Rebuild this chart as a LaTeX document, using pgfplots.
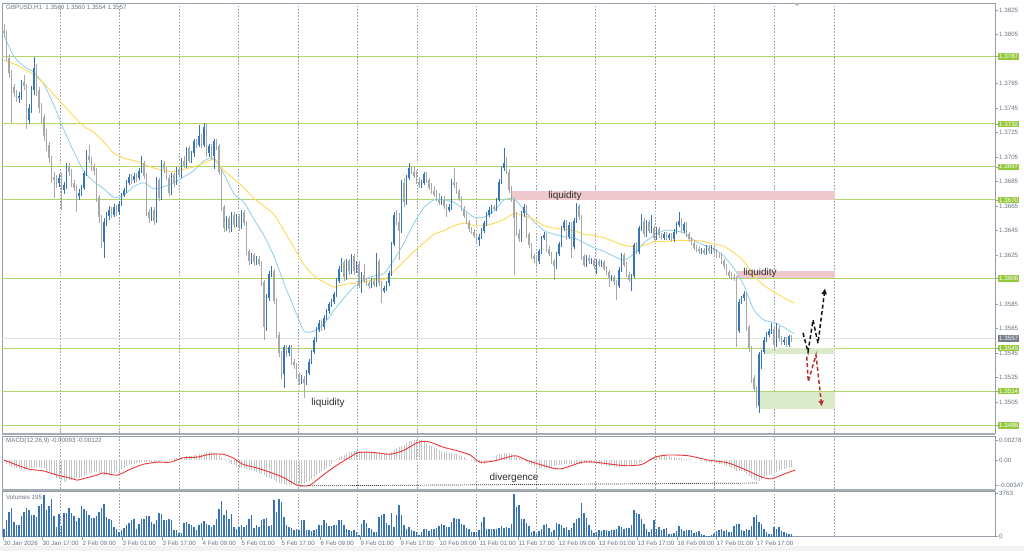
\documentclass[border=0pt]{standalone}
\usepackage{fontspec}
\setmainfont{Liberation Sans}
\usepackage{pgfplots}
\usepackage{pgfplotstable}
\pgfplotsset{compat=1.18}
\usetikzlibrary{arrows.meta}

\definecolor{candleup}{RGB}{55,117,186}
\definecolor{candledn}{RGB}{168,168,168}
\definecolor{lvlLine}{RGB}{178,214,108}
\definecolor{lvlBox}{RGB}{150,200,62}
\definecolor{frame}{RGB}{150,158,170}
\definecolor{gridc}{RGB}{155,163,175}
\definecolor{txt}{RGB}{105,115,130}
\definecolor{maBlue}{RGB}{150,210,240}
\definecolor{maYel}{RGB}{255,218,85}
\definecolor{zoneRed}{RGB}{238,200,204}
\definecolor{zoneGreen}{RGB}{219,235,201}
\definecolor{macdGrey}{RGB}{196,196,196}
\definecolor{sig}{RGB}{235,55,55}
\definecolor{volBlue}{RGB}{55,115,180}
\definecolor{curLine}{RGB}{226,226,229}
\definecolor{curBox}{RGB}{115,125,140}
\definecolor{anntext}{RGB}{45,45,45}
\definecolor{arrRed}{RGB}{180,52,52}
\definecolor{arrBlack}{RGB}{20,20,20}
\definecolor{sepc}{RGB}{165,172,182}

\newcommand{\lbl}{\fontsize{6.2}{7}\selectfont}
\newcommand{\ann}{\fontsize{10}{12}\selectfont}

% hourly bars: open high low close volume macd
\pgfplotstableread{
o h l c v m
1.3808 1.3814 1.3803 1.3806 700 -0.0003
1.3806 1.3808 1.3783 1.3786 1490 -0.0006
1.3786 1.3789 1.3770 1.3774 2190 -0.0008
1.3774 1.3776 1.3733 1.3762 2540 -0.0010
1.3762 1.3765 1.3754 1.3757 1310 -0.0011
1.3757 1.3760 1.3750 1.3753 1050 -0.0011
1.3753 1.3758 1.3749 1.3755 1050 -0.0013
1.3755 1.3768 1.3752 1.3766 1840 -0.0014
1.3766 1.3772 1.3760 1.3763 2190 -0.0014
1.3763 1.3765 1.3728 1.3735 2540 -0.0013
1.3735 1.3748 1.3732 1.3745 2360 -0.0011
1.3745 1.3763 1.3741 1.3760 1925 -0.0011
1.3760 1.3787 1.3756 1.3778 1925 -0.0010
1.3778 1.3781 1.3755 1.3760 1750 -0.0010
1.3760 1.3762 1.3741 1.3745 2710 -0.0010
1.3745 1.3749 1.3733 1.3738 2890 -0.0011
1.3738 1.3740 1.3718 1.3722 3675 -0.0011
1.3722 1.3728 1.3710 1.3715 2360 -0.0014
1.3715 1.3717 1.3700 1.3704 2710 -0.0017
1.3704 1.3706 1.3684 1.3689 3325 -0.0018
1.3689 1.3693 1.3672 1.3686 1840 -0.0021
1.3686 1.3690 1.3680 1.3684 875 -0.0025
1.3684 1.3691 1.3681 1.3688 2010 -0.0026
1.3688 1.3692 1.3662 1.3678 960 -0.0029
1.3678 1.3685 1.3675 1.3682 2100 -0.0031
1.3682 1.3700 1.3679 1.3698 2100 -0.0029
1.3698 1.3700 1.3690 1.3693 2540 -0.0028
1.3693 1.3695 1.3681 1.3684 2100 -0.0028
1.3684 1.3686 1.3677 1.3680 1840 -0.0026
1.3680 1.3682 1.3660 1.3673 1400 -0.0025
1.3673 1.3679 1.3670 1.3676 1660 -0.0025
1.3676 1.3682 1.3673 1.3680 2710 -0.0024
1.3680 1.3694 1.3678 1.3692 2450 -0.0022
1.3692 1.3711 1.3690 1.3706 2275 -0.0021
1.3706 1.3715 1.3700 1.3703 1925 -0.0018
1.3703 1.3705 1.3694 1.3697 1660 -0.0018
1.3697 1.3699 1.3690 1.3694 1660 -0.0017
1.3694 1.3696 1.3668 1.3672 1840 -0.0017
1.3672 1.3674 1.3651 1.3656 2190 -0.0018
1.3656 1.3658 1.3631 1.3636 2540 -0.0019
1.3636 1.3655 1.3623 1.3652 2890 -0.0021
1.3652 1.3660 1.3649 1.3657 1750 -0.0021
1.3657 1.3665 1.3654 1.3662 1575 -0.0021
1.3662 1.3664 1.3655 1.3658 1490 -0.0019
1.3658 1.3667 1.3656 1.3664 875 -0.0018
1.3664 1.3666 1.3657 1.3660 700 -0.0017
1.3660 1.3669 1.3658 1.3667 440 -0.0015
1.3667 1.3676 1.3665 1.3674 610 -0.0013
1.3674 1.3680 1.3672 1.3678 790 -0.0011
1.3678 1.3686 1.3676 1.3684 1050 -0.0008
1.3684 1.3691 1.3682 1.3689 1225 -0.0007
1.3689 1.3691 1.3683 1.3686 1490 -0.0006
1.3686 1.3692 1.3684 1.3690 1575 -0.0006
1.3690 1.3692 1.3685 1.3688 700 -0.0004
1.3688 1.3696 1.3686 1.3694 1140 -0.0004
1.3694 1.3706 1.3692 1.3700 1575 -0.0003
1.3700 1.3702 1.3687 1.3690 1575 -0.0003
1.3690 1.3692 1.3657 1.3660 1840 -0.0003
1.3660 1.3663 1.3651 1.3655 1840 -0.0003
1.3655 1.3664 1.3653 1.3662 1310 -0.0003
1.3662 1.3664 1.3650 1.3653 1140 -0.0003
1.3653 1.3689 1.3651 1.3686 1490 -0.0003
1.3686 1.3688 1.3669 1.3672 2100 -0.0003
1.3672 1.3703 1.3670 1.3700 2010 -0.0001
1.3700 1.3702 1.3692 1.3695 1490 -0.0001
1.3695 1.3697 1.3686 1.3688 1490 0
1.3688 1.3690 1.3673 1.3676 1575 0.0001
1.3676 1.3692 1.3674 1.3690 1490 0.0001
1.3690 1.3692 1.3681 1.3684 610 0.0003
1.3684 1.3697 1.3682 1.3695 610 0.0003
1.3695 1.3697 1.3688 1.3690 350 0.0003
1.3690 1.3704 1.3688 1.3702 350 0.0004
1.3702 1.3706 1.3696 1.3698 1225 0.0004
1.3698 1.3713 1.3696 1.3712 1310 0.0006
1.3712 1.3714 1.3700 1.3702 1140 0.0006
1.3702 1.3710 1.3700 1.3708 1050 0.0006
1.3708 1.3720 1.3705 1.3718 875 0.0007
1.3718 1.3720 1.3712 1.3715 610 0.0007
1.3715 1.3731 1.3713 1.3722 1050 0.0008
1.3722 1.3724 1.3712 1.3715 1225 0.0008
1.3715 1.3733 1.3713 1.3730 1400 0.0010
1.3730 1.3732 1.3705 1.3708 1140 0.0011
1.3708 1.3716 1.3705 1.3714 1050 0.0011
1.3714 1.3716 1.3703 1.3706 875 0.0011
1.3706 1.3720 1.3695 1.3718 1050 0.0010
1.3718 1.3720 1.3711 1.3714 1575 0.0010
1.3714 1.3716 1.3690 1.3693 2450 0.0008
1.3693 1.3695 1.3661 1.3664 3150 0.0004
1.3664 1.3666 1.3644 1.3647 1925 0.0001
1.3647 1.3657 1.3645 1.3655 2360 -0.0001
1.3655 1.3657 1.3643 1.3646 1575 -0.0004
1.3646 1.3660 1.3644 1.3658 2010 -0.0006
1.3658 1.3660 1.3647 1.3650 875 -0.0007
1.3650 1.3659 1.3648 1.3657 700 -0.0010
1.3657 1.3659 1.3645 1.3648 875 -0.0011
1.3648 1.3662 1.3646 1.3660 1050 -0.0011
1.3660 1.3662 1.3649 1.3651 875 -0.0011
1.3651 1.3653 1.3625 1.3628 1050 -0.0013
1.3628 1.3630 1.3617 1.3620 1575 -0.0014
1.3620 1.3627 1.3618 1.3625 1925 -0.0014
1.3625 1.3627 1.3616 1.3619 790 -0.0015
1.3619 1.3624 1.3617 1.3622 1050 -0.0017
1.3622 1.3624 1.3616 1.3618 875 -0.0018
1.3618 1.3620 1.3600 1.3603 1490 -0.0019
1.3603 1.3605 1.3556 1.3566 1575 -0.0021
1.3566 1.3593 1.3563 1.3590 1660 -0.0024
1.3590 1.3612 1.3588 1.3610 960 -0.0025
1.3610 1.3616 1.3607 1.3612 1050 -0.0026
1.3612 1.3614 1.3585 1.3588 3240 -0.0028
1.3588 1.3590 1.3557 1.3560 2190 -0.0031
1.3560 1.3562 1.3542 1.3545 3325 -0.0032
1.3545 1.3547 1.3524 1.3528 3060 -0.0033
1.3528 1.3552 1.3517 1.3550 1750 -0.0033
1.3550 1.3552 1.3542 1.3545 1050 -0.0035
1.3545 1.3552 1.3543 1.3550 875 -0.0035
1.3550 1.3552 1.3535 1.3538 790 -0.0035
1.3538 1.3540 1.3532 1.3535 610 -0.0035
1.3535 1.3537 1.3524 1.3527 700 -0.0035
1.3527 1.3529 1.3519 1.3522 610 -0.0035
1.3522 1.3527 1.3520 1.3524 1490 -0.0033
1.3524 1.3526 1.3508 1.3521 1490 -0.0033
1.3521 1.3531 1.3519 1.3529 610 -0.0031
1.3529 1.3540 1.3527 1.3538 610 -0.0029
1.3538 1.3548 1.3536 1.3546 525 -0.0026
1.3546 1.3558 1.3544 1.3556 610 -0.0024
1.3556 1.3566 1.3554 1.3564 700 -0.0021
1.3564 1.3572 1.3562 1.3570 1050 -0.0018
1.3570 1.3572 1.3563 1.3566 1050 -0.0015
1.3566 1.3576 1.3564 1.3574 1490 -0.0014
1.3574 1.3581 1.3572 1.3579 1225 -0.0011
1.3579 1.3587 1.3577 1.3585 960 -0.0008
1.3585 1.3589 1.3583 1.3587 960 -0.0006
1.3587 1.3595 1.3585 1.3593 1050 -0.0001
1.3593 1.3606 1.3591 1.3604 1050 0.0001
1.3604 1.3616 1.3602 1.3614 1490 0.0004
1.3614 1.3623 1.3611 1.3619 1490 0.0006
1.3619 1.3621 1.3604 1.3607 1050 0.0007
1.3607 1.3622 1.3605 1.3620 700 0.0008
1.3620 1.3622 1.3609 1.3612 610 0.0011
1.3612 1.3626 1.3610 1.3624 525 0.0011
1.3624 1.3626 1.3609 1.3612 610 0.0013
1.3612 1.3620 1.3610 1.3618 440 0.0013
1.3618 1.3620 1.3598 1.3600 175 0.0013
1.3600 1.3611 1.3594 1.3609 1140 0.0011
1.3609 1.3618 1.3602 1.3604 1490 0.0011
1.3604 1.3606 1.3600 1.3602 1225 0.0010
1.3602 1.3604 1.3597 1.3600 790 0.0010
1.3600 1.3606 1.3598 1.3604 700 0.0010
1.3604 1.3606 1.3599 1.3601 440 0.0010
1.3601 1.3627 1.3599 1.3620 440 0.0010
1.3620 1.3622 1.3600 1.3602 1750 0.0010
1.3602 1.3604 1.3586 1.3596 1925 0.0008
1.3596 1.3600 1.3594 1.3598 2010 0.0008
1.3598 1.3604 1.3596 1.3602 1225 0.0010
1.3602 1.3612 1.3600 1.3610 1050 0.0010
1.3610 1.3636 1.3608 1.3634 2100 0.0011
1.3634 1.3660 1.3632 1.3658 875 0.0014
1.3658 1.3662 1.3650 1.3652 1925 0.0017
1.3652 1.3659 1.3621 1.3645 2800 0.0018
1.3645 1.3686 1.3643 1.3684 1925 0.0019
1.3684 1.3688 1.3664 1.3668 1050 0.0021
1.3668 1.3690 1.3666 1.3688 700 0.0024
1.3688 1.3700 1.3686 1.3696 875 0.0026
1.3696 1.3698 1.3691 1.3693 610 0.0026
1.3693 1.3697 1.3688 1.3690 525 0.0028
1.3690 1.3694 1.3683 1.3685 440 0.0028
1.3685 1.3689 1.3680 1.3682 175 0.0028
1.3682 1.3686 1.3680 1.3684 440 0.0028
1.3684 1.3693 1.3682 1.3691 700 0.0026
1.3691 1.3693 1.3684 1.3686 700 0.0024
1.3686 1.3688 1.3678 1.3680 525 0.0021
1.3680 1.3684 1.3675 1.3677 700 0.0019
1.3677 1.3681 1.3672 1.3674 700 0.0018
1.3674 1.3678 1.3669 1.3671 790 0.0017
1.3671 1.3676 1.3666 1.3668 960 0.0014
1.3668 1.3673 1.3666 1.3670 1140 0.0013
1.3670 1.3673 1.3663 1.3665 1050 0.0011
1.3665 1.3667 1.3656 1.3662 875 0.0011
1.3662 1.3667 1.3660 1.3664 875 0.0010
1.3664 1.3687 1.3662 1.3685 1310 0.0010
1.3685 1.3696 1.3680 1.3682 1660 0.0008
1.3682 1.3685 1.3675 1.3677 1575 0.0008
1.3677 1.3679 1.3669 1.3671 1575 0.0007
1.3671 1.3673 1.3661 1.3663 1140 0.0006
1.3663 1.3665 1.3655 1.3657 1050 0.0004
1.3657 1.3659 1.3650 1.3652 790 0.0001
1.3652 1.3654 1.3644 1.3646 700 0
1.3646 1.3648 1.3642 1.3644 440 -0.0001
1.3644 1.3646 1.3639 1.3641 440 -0.0003
1.3641 1.3643 1.3635 1.3637 440 -0.0004
1.3637 1.3642 1.3632 1.3640 610 -0.0004
1.3640 1.3647 1.3638 1.3645 1310 -0.0006
1.3645 1.3653 1.3643 1.3651 1750 -0.0006
1.3651 1.3660 1.3649 1.3658 700 -0.0004
1.3658 1.3664 1.3656 1.3662 700 -0.0003
1.3662 1.3666 1.3659 1.3664 700 -0.0001
1.3664 1.3666 1.3661 1.3663 700 0
1.3663 1.3672 1.3661 1.3670 700 0.0007
1.3670 1.3687 1.3668 1.3685 790 0.0008
1.3685 1.3698 1.3683 1.3696 960 0.0008
1.3696 1.3712 1.3694 1.3700 790 0.0010
1.3700 1.3705 1.3691 1.3693 875 0.0010
1.3693 1.3695 1.3676 1.3678 790 0.0010
1.3678 1.3681 1.3668 1.3670 1140 0.0008
1.3670 1.3672 1.3609 1.3655 3763 0.0006
1.3655 1.3660 1.3641 1.3643 2625 0.0004
1.3643 1.3646 1.3636 1.3638 2800 0.0003
1.3638 1.3661 1.3636 1.3659 1575 0.0001
1.3659 1.3667 1.3656 1.3664 1575 0
1.3664 1.3666 1.3639 1.3642 1225 -0.0003
1.3642 1.3644 1.3631 1.3633 960 -0.0006
1.3633 1.3635 1.3622 1.3624 440 -0.0007
1.3624 1.3626 1.3619 1.3622 525 -0.0008
1.3622 1.3624 1.3617 1.3620 260 -0.0010
1.3620 1.3630 1.3618 1.3628 525 -0.0011
1.3628 1.3641 1.3626 1.3639 700 -0.0011
1.3639 1.3644 1.3637 1.3641 1050 -0.0011
1.3641 1.3643 1.3628 1.3630 1140 -0.0011
1.3630 1.3632 1.3624 1.3626 790 -0.0011
1.3626 1.3628 1.3618 1.3620 440 -0.0010
1.3620 1.3622 1.3605 1.3616 610 -0.0008
1.3616 1.3628 1.3614 1.3626 1225 -0.0007
1.3626 1.3636 1.3624 1.3634 1140 -0.0007
1.3634 1.3649 1.3632 1.3647 1050 -0.0007
1.3647 1.3654 1.3645 1.3652 790 -0.0006
1.3652 1.3654 1.3637 1.3640 875 -0.0006
1.3640 1.3652 1.3638 1.3650 610 -0.0006
1.3650 1.3652 1.3623 1.3632 790 -0.0006
1.3632 1.3655 1.3630 1.3653 1225 -0.0006
1.3653 1.3668 1.3651 1.3665 1575 -0.0006
1.3665 1.3667 1.3654 1.3656 1660 -0.0006
1.3656 1.3658 1.3621 1.3624 2975 -0.0006
1.3624 1.3626 1.3615 1.3617 2100 -0.0004
1.3617 1.3625 1.3615 1.3623 1660 -0.0004
1.3623 1.3625 1.3618 1.3620 1050 -0.0004
1.3620 1.3623 1.3618 1.3621 610 -0.0004
1.3621 1.3623 1.3614 1.3616 350 -0.0004
1.3616 1.3622 1.3610 1.3620 440 -0.0006
1.3620 1.3622 1.3615 1.3617 610 -0.0006
1.3617 1.3621 1.3615 1.3619 525 -0.0007
1.3619 1.3621 1.3612 1.3614 610 -0.0007
1.3614 1.3616 1.3609 1.3611 610 -0.0008
1.3611 1.3613 1.3599 1.3606 525 -0.0008
1.3606 1.3609 1.3604 1.3607 610 -0.0008
1.3607 1.3609 1.3601 1.3603 610 -0.0010
1.3603 1.3605 1.3588 1.3600 700 -0.0010
1.3600 1.3615 1.3598 1.3613 960 -0.0010
1.3613 1.3627 1.3611 1.3625 875 -0.0008
1.3625 1.3627 1.3615 1.3617 700 -0.0008
1.3617 1.3619 1.3607 1.3609 790 -0.0008
1.3609 1.3611 1.3603 1.3605 790 -0.0008
1.3605 1.3610 1.3596 1.3608 1050 -0.0008
1.3608 1.3635 1.3606 1.3633 2360 -0.0007
1.3633 1.3636 1.3626 1.3628 2100 -0.0006
1.3628 1.3649 1.3626 1.3647 2010 -0.0004
1.3647 1.3659 1.3645 1.3653 1575 -0.0003
1.3653 1.3655 1.3640 1.3642 1140 -0.0001
1.3642 1.3654 1.3640 1.3652 700 0
1.3652 1.3654 1.3643 1.3645 440 0.0001
1.3645 1.3658 1.3643 1.3647 700 0.0003
1.3647 1.3649 1.3637 1.3639 1490 0.0004
1.3639 1.3648 1.3637 1.3646 700 0.0006
1.3646 1.3648 1.3639 1.3641 875 0.0006
1.3641 1.3643 1.3637 1.3639 610 0.0007
1.3639 1.3644 1.3637 1.3642 700 0.0007
1.3642 1.3644 1.3637 1.3639 790 0.0006
1.3639 1.3643 1.3637 1.3641 260 0.0006
1.3641 1.3643 1.3636 1.3638 260 0.0004
1.3638 1.3646 1.3636 1.3644 350 0.0004
1.3644 1.3652 1.3642 1.3650 525 0.0003
1.3650 1.3660 1.3648 1.3653 960 0.0003
1.3653 1.3655 1.3643 1.3645 700 0.0003
1.3645 1.3652 1.3643 1.3650 525 0.0001
1.3650 1.3652 1.3640 1.3642 610 0.0001
1.3642 1.3644 1.3636 1.3638 610 0.0001
1.3638 1.3640 1.3633 1.3635 610 0
1.3635 1.3637 1.3629 1.3631 350 0
1.3631 1.3633 1.3628 1.3630 440 0
1.3630 1.3632 1.3626 1.3628 525 0
1.3628 1.3631 1.3626 1.3629 260 -0.0001
1.3629 1.3631 1.3625 1.3627 175 -0.0001
1.3627 1.3633 1.3625 1.3631 90 -0.0003
1.3631 1.3633 1.3626 1.3628 90 -0.0003
1.3628 1.3633 1.3626 1.3631 175 -0.0004
1.3631 1.3633 1.3626 1.3628 260 -0.0004
1.3628 1.3630 1.3623 1.3625 525 -0.0004
1.3625 1.3627 1.3623 1.3625 610 -0.0006
1.3625 1.3627 1.3618 1.3620 700 -0.0006
1.3620 1.3622 1.3614 1.3616 525 -0.0007
1.3616 1.3618 1.3609 1.3611 610 -0.0008
1.3611 1.3613 1.3606 1.3608 440 -0.0010
1.3608 1.3611 1.3605 1.3607 440 -0.0011
1.3607 1.3610 1.3604 1.3606 960 -0.0013
1.3606 1.3608 1.3550 1.3563 1140 -0.0015
1.3563 1.3589 1.3561 1.3587 1140 -0.0015
1.3587 1.3592 1.3585 1.3590 610 -0.0015
1.3590 1.3596 1.3588 1.3593 525 -0.0017
1.3593 1.3595 1.3563 1.3566 700 -0.0019
1.3566 1.3568 1.3546 1.3549 610 -0.0022
1.3549 1.3551 1.3521 1.3525 960 -0.0025
1.3525 1.3527 1.3513 1.3516 1750 -0.0028
1.3516 1.3518 1.3500 1.3502 1925 -0.0029
1.3502 1.3546 1.3496 1.3544 1310 -0.0029
1.3544 1.3548 1.3532 1.3546 1140 -0.0026
1.3546 1.3558 1.3544 1.3556 700 -0.0024
1.3556 1.3562 1.3554 1.3560 440 -0.0022
1.3560 1.3565 1.3558 1.3563 260 -0.0021
1.3563 1.3570 1.3561 1.3565 260 -0.0019
1.3565 1.3567 1.3547 1.3552 875 -0.0018
1.3552 1.3570 1.3550 1.3565 700 -0.0017
1.3565 1.3567 1.3555 1.3557 875 -0.0015
1.3557 1.3559 1.3552 1.3554 525 -0.0014
1.3554 1.3558 1.3552 1.3556 440 -0.0013
1.3556 1.3558 1.3550 1.3552 350 -0.0011
1.3552 1.3560 1.3550 1.3559 260 -0.0010
1.3560 1.3560 1.3554 1.3557 195 -0.0010
}\bars
\pgfplotstablecreatecol[create col/expr={\pgfplotstablerow}]{i}\bars

\pgfplotsset{
  panel/.style={
    anchor=north west, width=993pt, scale only axis,
    xmin=-0.8, xmax=396.4, clip=false,
    axis line style={draw=frame, line width=0.8pt},
    grid style={gridc, line width=0.6pt, dash pattern=on 1.6pt off 1.6pt},
    ytick pos=right, yticklabel pos=right, tick align=outside,
    major tick length=3pt,
    every tick/.style={draw=frame, line width=0.6pt},
    yticklabel style={font=\lbl, text=txt, inner sep=1pt},
    scaled y ticks=false,
  },
  gridx/.style={
    xtick={22.4,46,70,93.6,117.6,141.2,165.2,188.8,212.8,236.4,260.4,284,308,332},
    xticklabels={}, xmajorgrids, major x tick style={draw=none},
  },
  candle/.style={draw=none, mark=none, forget plot,
    error bars/y dir=both, error bars/y explicit, error bars/error mark=none},
}

\begin{document}
\begin{tikzpicture}
\fill[white] (0pt,0pt) rectangle (1024pt,-551pt);
\fill[black!5] (0pt,-546pt) rectangle (1024pt,-551pt);

% price panel
\begin{axis}[panel, gridx, at={(2pt,-3pt)}, height=430pt,
  ymin=1.34798, ymax=1.38307,
  ytick={1.3505,1.3525,1.3545,1.3565,1.3585,1.3625,1.3645,1.3665,1.3685,1.3705,1.3725,1.3745,1.3765,1.3805,1.3825},
  yticklabel style={/pgf/number format/fixed, /pgf/number format/fixed zerofill,
    /pgf/number format/precision=4, /pgf/number format/assume math mode=true},
  extra y ticks={1.3787,1.3732,1.3697,1.3670,1.3606,1.3549,1.3514,1.3486},
  extra y tick style={ymajorgrids=true,
    major grid style={lvlLine, line width=0.9pt, solid},
    yticklabel style={fill=lvlBox, text=white}},
]
% zones and current price line, drawn first so the bars sit on top
\addplot[fill=zoneRed, draw=none, forget plot] coordinates {(203.2,1.3670)(203.2,1.3677)(332.4,1.3677)(332.4,1.3670)} -- cycle;
\addplot[fill=zoneRed, draw=none, forget plot] coordinates {(293.2,1.3606)(293.2,1.3612)(332.4,1.3612)(332.4,1.3606)} -- cycle;
\addplot[fill=zoneGreen, draw=none, forget plot] coordinates {(304.4,1.3544)(304.4,1.3549)(332.4,1.3549)(332.4,1.3544)} -- cycle;
\addplot[fill=zoneGreen, draw=none, forget plot] coordinates {(302.4,1.3499)(302.4,1.3513)(332.4,1.3513)(332.4,1.3499)} -- cycle;
\addplot[curLine, line width=1.8pt, forget plot] coordinates {(-0.8,1.3557)(396.4,1.3557)};

% moving averages
\addplot[maBlue, line width=0.9pt, smooth, tension=0.4] coordinates {
(0,1.3804)(4,1.3787)(8,1.3779)(12,1.3774)(16,1.3764)(20,1.3747)(24,1.3727)(28,1.3709)
(32,1.3693)(36,1.3685)(40,1.3679)(44,1.3672)(48,1.3674)(52,1.3681)(56,1.3684)(60,1.3679)
(64,1.3681)(68,1.3684)(72,1.3689)(76,1.3694)(80,1.3702)(84,1.3704)(88,1.3691)(92,1.3675)
(96,1.3668)(100,1.3654)(104,1.3641)(108,1.3624)(112,1.3602)(116,1.3582)(120,1.3563)(124,1.3563)
(128,1.3569)(132,1.3580)(136,1.3590)(140,1.3599)(144,1.3605)(148,1.3608)(152,1.3610)(156,1.3621)
(160,1.3635)(164,1.3651)(168,1.3664)(172,1.3670)(176,1.3670)(180,1.3668)(184,1.3662)(188,1.3656)
(192,1.3656)(196,1.3661)(200,1.3670)(204,1.3671)(208,1.3662)(212,1.3652)(216,1.3645)(220,1.3642)
(224,1.3640)(228,1.3639)(232,1.3635)(236,1.3631)(240,1.3628)(244,1.3624)(248,1.3621)(252,1.3626)
(256,1.3635)(260,1.3641)(264,1.3645)(268,1.3645)(272,1.3643)(276,1.3637)(280,1.3633)(284,1.3630)
(288,1.3624)(292,1.3614)(296,1.3600)(300,1.3580)(304,1.3572)(308,1.3570)(312,1.3566)(316,1.3561)};
\addplot[maYel, line width=0.9pt, smooth, tension=0.4] coordinates {
(0,1.3784)(4,1.3781)(8,1.3777)(12,1.3772)(16,1.3765)(20,1.3756)(24,1.3747)(28,1.3738)
(32,1.3730)(36,1.3725)(40,1.3717)(44,1.3708)(48,1.3704)(52,1.3702)(56,1.3699)(60,1.3696)
(64,1.3694)(68,1.3693)(72,1.3695)(76,1.3697)(80,1.3700)(84,1.3703)(88,1.3694)(92,1.3687)
(96,1.3680)(100,1.3671)(104,1.3665)(108,1.3658)(112,1.3645)(116,1.3631)(120,1.3617)(124,1.3608)
(128,1.3603)(132,1.3599)(136,1.3601)(140,1.3602)(144,1.3603)(148,1.3605)(152,1.3605)(156,1.3612)
(160,1.3620)(164,1.3628)(168,1.3635)(172,1.3642)(176,1.3645)(180,1.3649)(184,1.3651)(188,1.3649)
(192,1.3649)(196,1.3651)(200,1.3654)(204,1.3659)(208,1.3657)(212,1.3654)(216,1.3649)(220,1.3647)
(224,1.3646)(228,1.3645)(232,1.3642)(236,1.3641)(240,1.3639)(244,1.3636)(248,1.3633)(252,1.3632)
(256,1.3633)(260,1.3636)(264,1.3636)(268,1.3637)(272,1.3637)(276,1.3637)(280,1.3636)(284,1.3634)
(288,1.3632)(292,1.3627)(296,1.3620)(300,1.3608)(304,1.3600)(308,1.3595)(312,1.3590)(316,1.3586)};

% candles: wicks then bodies, down bars grey, up bars blue
\addplot[candle, restrict expr to domain={\thisrow{c}-\thisrow{o}}{-1:0.00005},
  error bars/error bar style={draw=candledn, line width=0.7pt}]
  table[x=i, y expr={(\thisrow{h}+\thisrow{l})/2}, y error expr={(\thisrow{h}-\thisrow{l})/2}] {\bars};
\addplot[candle, restrict expr to domain={\thisrow{c}-\thisrow{o}}{-1:0.00005},
  error bars/error bar style={draw=candledn, line width=1.7pt}]
  table[x=i, y expr={(\thisrow{o}+\thisrow{c})/2}, y error expr={abs(\thisrow{c}-\thisrow{o})/2}] {\bars};
\addplot[candle, restrict expr to domain={\thisrow{c}-\thisrow{o}}{0.00005:1},
  error bars/error bar style={draw=candleup, line width=0.7pt}]
  table[x=i, y expr={(\thisrow{h}+\thisrow{l})/2}, y error expr={(\thisrow{h}-\thisrow{l})/2}] {\bars};
\addplot[candle, restrict expr to domain={\thisrow{c}-\thisrow{o}}{0.00005:1},
  error bars/error bar style={draw=candleup, line width=1.7pt}]
  table[x=i, y expr={(\thisrow{o}+\thisrow{c})/2}, y error expr={abs(\thisrow{c}-\thisrow{o})/2}] {\bars};

% annotations
\node[font=\ann, text=anntext] at (axis cs:224.4,1.36735) {liquidity};
\node[font=\ann, text=anntext] at (axis cs:302.4,1.36104) {liquidity};
\node[font=\ann, text=anntext] at (axis cs:129.6,1.35043) {liquidity};
\draw[arrBlack, line width=1.5pt, dash pattern=on 4pt off 2.5pt, -{Latex[length=6pt,width=6pt]}]
  (axis cs:319.6,1.35614) -- (axis cs:321.6,1.3546) -- (axis cs:323.6,1.3572)
  -- (axis cs:325.6,1.3553) -- (axis cs:328.4,1.3598);
\draw[arrRed, line width=1.5pt, dash pattern=on 4pt off 2.5pt, -{Latex[length=6pt,width=6pt]}]
  (axis cs:321.1,1.35421) -- (axis cs:321.7,1.35217) -- (axis cs:324.8,1.35435)
  -- (axis cs:327.1,1.35013);
\node[fill=curBox, text=white, font=\lbl, anchor=west, inner sep=1pt, xshift=3pt]
  at (axis cs:396.4,1.3557) {1.3557};
\end{axis}

% MACD panel
\begin{axis}[panel, gridx, at={(2pt,-436pt)}, height=53pt,
  ymin=-0.00403, ymax=0.00334,
  ytick={-0.00347,0,0.00278}, yticklabels={-0.00347,0.00,0.00278},
]
\addplot[ycomb, draw=macdGrey, line width=0.9pt, forget plot] table[x=i, y=m] {\bars};
\addplot[sig, line width=0.9pt, smooth, tension=0.4] coordinates {
(0,0)(5.2,-0.0007)(10.4,-0.0013)(15.6,-0.0015)(21.2,-0.0021)(26.4,-0.0025)(29.2,-0.0028)
(31.6,-0.0026)(37.2,-0.0021)(39.6,-0.0018)(45.2,-0.0021)(50.4,-0.0013)(55.6,-0.0006)
(61.2,-0.0003)(66.4,-0.0003)(71.6,0.0003)(77.2,0.0004)(82.4,0.0008)(87.6,0.0008)
(91.6,0.0003)(95.6,-0.0006)(101.2,-0.0011)(106.4,-0.0017)(111.6,-0.0024)(117.2,-0.0035)
(119.6,-0.0036)(122.4,-0.0035)(127.6,-0.0021)(133.2,-0.0007)(138.4,0.0004)(141.2,0.0010)
(145.2,0.0011)(149.2,0.0010)(154.4,0.0008)(159.6,0.0013)(165.2,0.0024)(167.6,0.0026)
(170.4,0.0025)(175.6,0.0018)(181.2,0.0013)(186.4,0.0007)(190.4,-0.0003)(196.4,-0.0001)
(204.4,0.0006)(209.6,-0.0001)(219.2,-0.0011)(223.2,-0.0012)(231.2,-0.0003)(236.4,-0.0003)
(243.2,-0.0006)(249.6,-0.0008)(255.2,-0.0006)(260.4,0.0004)(265.6,0.0007)(273.6,0.0006)
(281.6,0)(289.6,-0.0004)(297.6,-0.0015)(303.2,-0.0024)(307.2,-0.0026)(312.4,-0.0019)(316.4,-0.0014)};
\draw[black!80, line width=0.7pt, dash pattern=on 1pt off 1pt]
  (axis cs:118.4,-0.0036) -- (axis cs:301.6,-0.0032);
\node[font=\ann, text=anntext] at (axis cs:204,-0.00246) {divergence};
\end{axis}

% volume panel
\begin{axis}[panel, at={(2pt,-491pt)}, height=45.7pt,
  ymin=0, ymax=4000, ytick={0,3763}, yticklabels={0,3763},
  xtick={-0.4,15.2,31.2,47.2,63.2,79.2,94.8,110.8,126.4,142.4,158.4,174,190,205.6,221.6,237.6,253.2,269.2,284.8,300.8},
  xticklabels={30 Jan 2026,30 Jan 17:00,2 Feb 09:00,3 Feb 01:00,3 Feb 17:00,4 Feb 09:00,5 Feb 01:00,5 Feb 17:00,6 Feb 09:00,9 Feb 01:00,9 Feb 17:00,10 Feb 09:00,11 Feb 01:00,11 Feb 17:00,12 Feb 09:00,13 Feb 01:00,13 Feb 17:00,16 Feb 09:00,17 Feb 01:00,17 Feb 17:00},
  xtick pos=bottom,
  xticklabel style={font=\lbl, text=txt, anchor=north west, inner sep=0.5pt, yshift=-0.5pt},
  extra x ticks={22.4,46,70,93.6,117.6,141.2,165.2,188.8,212.8,236.4,260.4,284,308,332},
  extra x tick labels={},
  extra x tick style={xmajorgrids=true, major tick length=0pt},
]
\addplot[ycomb, draw=volBlue, line width=1.5pt] table[x=i, y=v] {\bars};
\end{axis}

% panel separators, chart-shift marker and captions
\draw[sepc, line width=2pt] (2pt,-434.2pt) -- (995pt,-434.2pt);
\draw[sepc, line width=2pt] (2pt,-490pt) -- (995pt,-490pt);
\fill[black!30] (794pt,-3pt) -- (800pt,-3pt) -- (797pt,-6pt) -- cycle;
\node[anchor=west, font=\lbl, text=txt, inner sep=0pt] at (6pt,-7.5pt) {GBPUSD,H1\ \ 1.3560 1.3560 1.3554 1.3557};
\node[anchor=west, font=\lbl, text=txt, inner sep=0pt] at (6pt,-441pt) {MACD(12,26,9) -0.00093 -0.00122};
\node[anchor=west, font=\lbl, text=txt, inner sep=0pt] at (6pt,-497pt) {Volumes 195};
\pgfresetboundingbox
\path[use as bounding box] (0pt,0pt) rectangle (1024pt,-551pt);
\end{tikzpicture}
\end{document}
